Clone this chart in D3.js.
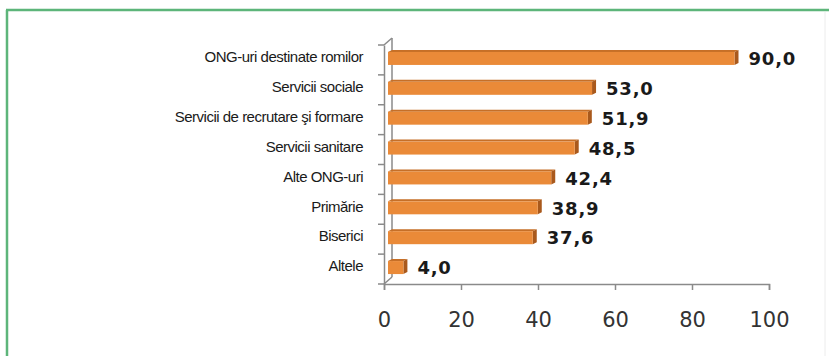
<!DOCTYPE html>
<html><head><meta charset="utf-8">
<script src="https://d3js.org/d3.v7.min.js"></script>
<style>body{margin:0;background:#fff}svg{display:block}</style>
</head><body>
<script>
const categories = ["ONG-uri destinate romilor","Servicii sociale","Servicii de recrutare şi formare","Servicii sanitare","Alte ONG-uri","Primărie","Biserici","Altele"];
const values = [90.0, 53.0, 51.9, 48.5, 42.4, 38.9, 37.6, 4.0];
const valueLabels = ["90,0","53,0","51,9","48,5","42,4","38,9","37,6","4,0"];
const xTicks = [0,20,40,60,80,100];

const W = 829, H = 356;
const svg = d3.select("body").append("svg").attr("width", W).attr("height", H);

// frame
svg.append("line").attr("x1",7).attr("y1",10).attr("x2",7).attr("y2",H).attr("stroke","#5db57a").attr("stroke-width",2.5);
svg.append("line").attr("x1",6).attr("y1",10).attr("x2",W).attr("y2",10).attr("stroke","#5db57a").attr("stroke-width",2.5);
svg.append("line").attr("x1",825).attr("y1",12).attr("x2",825).attr("y2",H).attr("stroke","#ececec").attr("stroke-width",1);

const x = d3.scaleLinear().domain([0,100]).range([384,769]);
const y = d3.scaleBand().domain(categories).range([45,284]);
const dx = 8, dy = -7;

const g = svg.append("g");
// back wall + floor
g.append("line").attr("x1",x(0)+dx).attr("y1",y.range()[0]+dy).attr("x2",x(0)+dx).attr("y2",y.range()[1]+dy).attr("stroke","#8a8a8a").attr("stroke-width",1.5);
g.append("line").attr("x1",x(0)).attr("y1",y.range()[0]).attr("x2",x(0)+dx).attr("y2",y.range()[0]+dy).attr("stroke","#8a8a8a").attr("stroke-width",1.5);
g.append("line").attr("x1",x(0)).attr("y1",y.range()[1]).attr("x2",x(0)+dx).attr("y2",y.range()[1]+dy).attr("stroke","#8a8a8a").attr("stroke-width",1.5);

// left axis (front)
const yAxis = d3.axisLeft(y).tickSize(0).tickFormat("");
const ya = g.append("g").attr("transform",`translate(${x(0)},0)`).call(yAxis);
ya.select(".domain").attr("stroke","#8a8a8a").attr("stroke-width",1.5);
const bounds = categories.map(c => y(c)).concat([y.range()[1]]);
g.selectAll(".ytk").data(bounds).join("line").attr("x1",x(0)-6).attr("x2",x(0)).attr("y1",d=>d).attr("y2",d=>d).attr("stroke","#8a8a8a").attr("stroke-width",1.5);

// bottom axis
const xAxis = d3.axisBottom(x).tickValues(xTicks).tickSize(6).tickPadding(22).tickFormat(d=>d);
const xa = g.append("g").attr("transform",`translate(0,${y.range()[1]})`).call(xAxis);
xa.select(".domain").attr("stroke","#8a8a8a").attr("stroke-width",1.5);
xa.selectAll(".tick line").attr("stroke","#8a8a8a").attr("stroke-width",1.5);
xa.selectAll(".tick text").attr("fill","#333").attr("font-family","DejaVu Sans, Verdana, sans-serif").attr("font-size",21);

// bars
const bh = 13, bd = 4;
const bars = g.selectAll(".bar").data(categories).join("g");
const bx0 = x(0) + 4;
bars.each(function(c,i){
  const s = d3.select(this);
  const top = y(c) + y.bandwidth()/2 - 8;
  const w = x(values[i]) - x(0);
  s.append("path").attr("d",`M${bx0},${top} L${bx0+bd},${top-2} L${bx0+w+bd},${top-2} L${bx0+w},${top} Z`).attr("fill","#c66f27");
  s.append("path").attr("d",`M${bx0+w},${top} L${bx0+w+bd},${top-2} L${bx0+w+bd},${top+bh-2} L${bx0+w},${top+bh} Z`).attr("fill","#a9591c");
  s.append("rect").attr("x",bx0).attr("y",top).attr("width",w).attr("height",bh).attr("fill","#ea8a38");
});

// value labels
g.selectAll(".val").data(categories).join("text")
  .attr("x",(c,i)=>x(values[i])+4+bd+10)
  .attr("y",c=>y(c)+y.bandwidth()/2-1)
  .attr("dy","0.35em")
  .attr("font-family","DejaVu Sans, Verdana, sans-serif").attr("font-weight","bold").attr("font-size",18)
  .attr("letter-spacing","0.8")
  .attr("fill","#1a1a1a")
  .text((c,i)=>valueLabels[i]);

// category labels
g.selectAll(".cat").data(categories).join("text")
  .attr("x",363)
  .attr("y",c=>y(c)+y.bandwidth()/2-3)
  .attr("dy","0.35em")
  .attr("text-anchor","end")
  .attr("font-family","Liberation Sans, Arial, sans-serif").attr("font-size",15)
  .attr("letter-spacing","-0.5")
  .attr("fill","#1a1a1a")
  .text(c=>c);
</script>
</body></html>
